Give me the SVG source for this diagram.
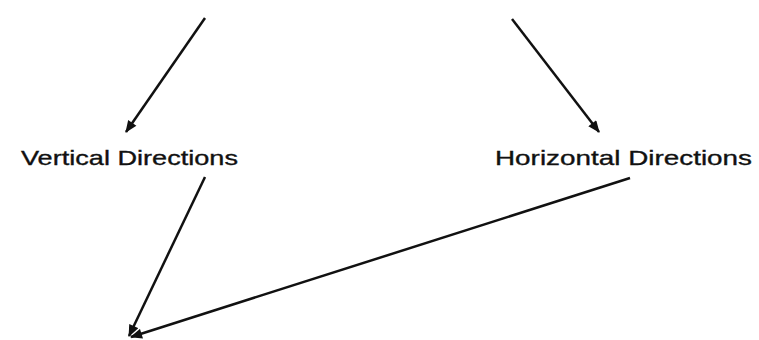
<svg xmlns="http://www.w3.org/2000/svg" width="759" height="340" viewBox="0 0 759 340">
<defs>
<style>
.lbl{font-family:"Liberation Sans",Arial,Helvetica,sans-serif;font-size:21px;fill:#111;stroke:#111;stroke-width:0.35;}
.edge{stroke:#111;stroke-width:2.5;fill:none;}
</style>
<marker id="ah" viewBox="0 0 12 10" refX="11" refY="5" markerWidth="13" markerHeight="10" markerUnits="userSpaceOnUse" orient="auto">
<path d="M0,0 L12,5 L0,10 Z" fill="#111"/>
</marker>
</defs>
<rect width="759" height="340" fill="#fff"/>
<g id="connectors">
<line class="edge" x1="205" y1="18" x2="126" y2="132" marker-end="url(#ah)"/>
<line class="edge" x1="512" y1="19" x2="599" y2="132" marker-end="url(#ah)"/>
<line class="edge" x1="205" y1="177" x2="129" y2="336" marker-end="url(#ah)"/>
<line class="edge" x1="630" y1="178" x2="131" y2="337" marker-end="url(#ah)"/>
</g>
<g id="vertical">
<text class="lbl" x="21" y="165" textLength="217" lengthAdjust="spacingAndGlyphs">Vertical Directions</text>
</g>
<g id="horizontal">
<text class="lbl" x="495" y="165" textLength="257" lengthAdjust="spacingAndGlyphs">Horizontal Directions</text>
</g>
</svg>
